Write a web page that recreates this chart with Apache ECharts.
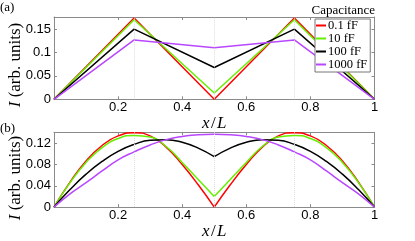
<!DOCTYPE html>
<html><head><meta charset="utf-8">
<script src="https://cdn.jsdelivr.net/npm/echarts@6/dist/echarts.min.js"></script>
<style>html,body{margin:0;padding:0;background:#fff}#c{width:415px;height:241px}</style>
</head><body><div id="c"></div>
<script>
const names = ['0.1 fF', '10 fF', '100 fF', '1000 fF'];
const colors = ['#ff0000', '#66ee00', '#000000', '#b847ff'];

// panel (a)
const xA = [0, 0.25, 0.5, 0.75, 1];
const redA = [0, 0.174, 0, 0.174, 0];
const greenA = [0, 0.170, 0.0135, 0.170, 0];
const blackA = [0, 0.150, 0.068, 0.150, 0];
const purpleA = [0, 0.127, 0.110, 0.127, 0];

// panel (b)
const xB = [0, 0.05, 0.1, 0.15, 0.2, 0.25, 0.3, 0.35, 0.4, 0.45, 0.5, 0.55, 0.6, 0.65, 0.7, 0.75, 0.8, 0.85, 0.9, 0.95, 1];
const redB = [0, 0.047, 0.087, 0.116, 0.134, 0.140, 0.134, 0.113, 0.080, 0.042, 0, 0.042, 0.080, 0.113, 0.134, 0.140, 0.134, 0.116, 0.087, 0.047, 0];
const greenB = [0, 0.046, 0.084, 0.112, 0.129, 0.135, 0.132, 0.114, 0.084, 0.052, 0.020, 0.052, 0.084, 0.114, 0.132, 0.135, 0.129, 0.112, 0.084, 0.046, 0];
const blackB = [0, 0.033, 0.062, 0.086, 0.105, 0.118, 0.126, 0.127, 0.122, 0.111, 0.095, 0.111, 0.122, 0.127, 0.126, 0.118, 0.105, 0.086, 0.062, 0.033, 0];
const purpleB = [0, 0.025, 0.046, 0.068, 0.089, 0.104, 0.117, 0.127, 0.133, 0.136, 0.137, 0.136, 0.133, 0.127, 0.117, 0.104, 0.089, 0.068, 0.046, 0.025, 0];

// ticks
const xTicks = [0, 0.2, 0.4, 0.6, 0.8, 1];
const yTicksA = [0, 0.05, 0.1, 0.15];
const yTicksB = [0, 0.04, 0.08, 0.12];
const yMaxA = 0.176, yMaxB = 0.1408;
const gridX = [0.25, 0.5, 0.75];

const seriesA = [redA, greenA, blackA, purpleA];
const seriesB = [redB, greenB, blackB, purpleB];

const axisGray = '#8a8a8a';
const tickFont = {color: '#000', fontFamily: 'Liberation Sans', fontSize: 13};
const serif = 'Liberation Serif';

function xAxes(gi, gap) {
  return [
    {gridIndex: gi, type: 'value', min: 0, max: 1, interval: xTicks[1] - xTicks[0], position: 'bottom',
     axisLine: {show: true, onZero: false, lineStyle: {color: axisGray, width: 1}},
     axisTick: {show: true, inside: true, length: 3, lineStyle: {color: axisGray}},
     axisLabel: Object.assign({showMinLabel: false, margin: 2}, tickFont),
     splitLine: {show: false},
     name: '{i|x}\u200a/\u200a{i|L}', nameLocation: 'middle', nameGap: gap,
     nameTextStyle: {fontFamily: serif, fontSize: 17, color: '#000',
       rich: {i: {fontStyle: 'italic', fontFamily: serif, fontSize: 17, color: '#000'}}}},
    {gridIndex: gi, type: 'value', min: 0, max: 1, interval: xTicks[1] - xTicks[0], position: 'top',
     axisLine: {show: true, onZero: false, lineStyle: {color: axisGray, width: 1}},
     axisTick: {show: true, inside: true, length: 3, lineStyle: {color: axisGray}},
     axisLabel: {show: false}, splitLine: {show: false}}
  ];
}
function yAxes(gi, ymax, ticks) {
  const iv = ticks[1] - ticks[0];
  return [
    {gridIndex: gi, type: 'value', min: 0, max: ymax, interval: iv, position: 'left',
     axisLine: {show: true, onZero: false, lineStyle: {color: axisGray, width: 1}},
     axisTick: {show: true, inside: true, length: 3, lineStyle: {color: axisGray}},
     axisLabel: Object.assign({showMaxLabel: false, margin: 3}, tickFont),
     splitLine: {show: false}},
    {gridIndex: gi, type: 'value', min: 0, max: ymax, interval: iv, position: 'right',
     axisLine: {show: true, onZero: false, lineStyle: {color: axisGray, width: 1}},
     axisTick: {show: true, inside: true, length: 3, lineStyle: {color: axisGray}},
     axisLabel: {show: false}, splitLine: {show: false}}
  ];
}

const series = [];
[0, 2].forEach(ai => {
  series.push({type: 'line', xAxisIndex: ai, yAxisIndex: ai, data: [[0, 0]], symbol: 'none',
    lineStyle: {opacity: 0}, silent: true, z: 1, animation: false,
    markLine: {symbol: 'none', silent: true, animation: false, label: {show: false},
      lineStyle: {type: 'dotted', color: '#dcdcdc', width: 1},
      data: gridX.map(v => ({xAxis: v}))}});
});
names.forEach((n, i) => {
  series.push({type: 'line', name: n, xAxisIndex: 0, yAxisIndex: 0, symbol: 'none', z: 3,
    animation: false, color: colors[i], lineStyle: {width: 1.5, color: colors[i]},
    data: xA.map((x, k) => [x, seriesA[i][k]])});
});
names.forEach((n, i) => {
  const pts = xB.map((x, k) => [x, seriesB[i][k]]);
  [pts.slice(0, 11), pts.slice(10)].forEach(part => {
    series.push({type: 'line', name: n, xAxisIndex: 2, yAxisIndex: 2, symbol: 'none', z: 3,
      smooth: 0.5, animation: false, color: colors[i], lineStyle: {width: 1.5, color: colors[i]},
      data: part});
  });
});

const chart = echarts.init(document.getElementById('c'), null, {renderer: 'canvas'});
chart.setOption({
  animation: false,
  backgroundColor: '#fff',
  grid: [
    {left: 54, top: 17, width: 320.5, height: 82.3},
    {left: 54, top: 132.3, width: 320.5, height: 81.7}
  ],
  xAxis: xAxes(0, 13).concat(xAxes(1, 9)),
  yAxis: yAxes(0, yMaxA, yTicksA).concat(yAxes(1, yMaxB, yTicksB)),
  title: {text: 'Capacitance', right: 40, top: 4, padding: 0,
    textStyle: {fontFamily: serif, fontSize: 13, fontWeight: 'normal', color: '#000'}},
  legend: {data: names, orient: 'vertical', left: 315, top: 19, icon: 'rect',
    itemWidth: 10, itemHeight: 2, itemGap: 0, padding: [0, 3, 1, 1],
    borderColor: '#777', borderWidth: 1, borderRadius: 0, backgroundColor: '#fff',
    textStyle: {fontFamily: serif, fontSize: 12.5, color: '#000', lineHeight: 12.8, padding: [0, 0, 0, -3]}},
  graphic: [
    {type: 'text', left: 0, top: 1, style: {text: '(a)', fontFamily: serif, fontSize: 13, fill: '#000'}},
    {type: 'text', left: 0, top: 122, style: {text: '(b)', fontFamily: serif, fontSize: 13, fill: '#000'}},
    {type: 'text', x: 16, y: 65, rotation: Math.PI / 2,
     style: {text: '{i|I} (arb. units)', fontFamily: serif, fontSize: 17, fill: '#000',
       align: 'center', verticalAlign: 'middle',
       rich: {i: {fontStyle: 'italic', fontFamily: serif, fontSize: 17}}}},
    {type: 'text', x: 16, y: 178, rotation: Math.PI / 2,
     style: {text: '{i|I} (arb. units)', fontFamily: serif, fontSize: 17, fill: '#000',
       align: 'center', verticalAlign: 'middle',
       rich: {i: {fontStyle: 'italic', fontFamily: serif, fontSize: 17}}}}
  ],
  series: series
});
</script></body></html>
